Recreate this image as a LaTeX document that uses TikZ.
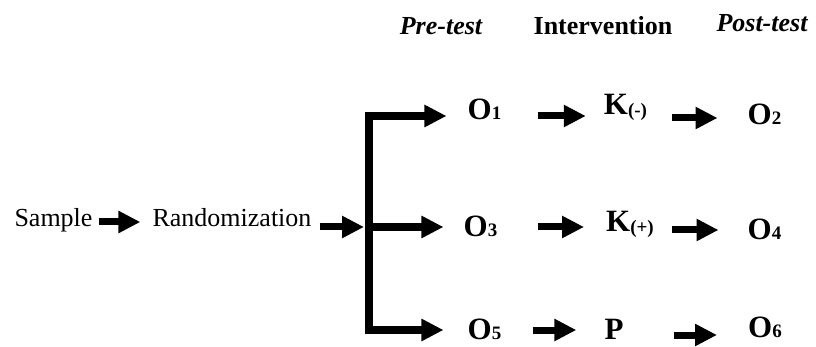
\documentclass[tikz,border=0pt]{standalone}
\usepackage{fontspec}
\setmainfont{Liberation Serif}
\usetikzlibrary{arrows.meta}
\newcommand{\obsv}[2]{#1{\fontsize{19}{19}\selectfont #2}}
\newcommand{\treat}[2]{#1\raisebox{-2pt}{\fontsize{19}{19}\selectfont #2}}

\begin{document}
\begin{tikzpicture}[x=1pt,y=-1pt,
  arr/.style={line width=7pt,-{Triangle[length=22pt,width=21pt]}},
  txt/.style={anchor=base,inner sep=0pt,font=\fontsize{26}{30}\selectfont},
  big/.style={anchor=base,inner sep=0pt,font=\fontsize{31}{34}\selectfont\bfseries}]
\useasboundingbox(0,0)rectangle(816,347);
% headings
\node[txt,font=\fontsize{26}{30}\selectfont\bfseries\itshape](pre) at (441,35){Pre-test};
\node[txt,font=\fontsize{26}{30}\selectfont\bfseries](interv) at (603,35){Intervention};
\node[txt,font=\fontsize{26}{30}\selectfont\bfseries\itshape](post) at (762,32){Post-test};
% left part
\node[txt](sample) at (53.5,227){Sample};
\node[txt](rand) at (232,227){Randomization};
% groups
\node[big](o1) at (484.5,120){\obsv{O}{1}};
\node[big](k1) at (625.5,115){\treat{K}{(-)}};
\node[big](o2) at (764.5,125){\obsv{O}{2}};
\node[big](o3) at (480.5,237){\obsv{O}{3}};
\node[big](k2) at (630,232){\treat{K}{(+)}};
\node[big](o4) at (764.5,240){\obsv{O}{4}};
\node[big](o5) at (484.5,339){\obsv{O}{5}};
\node[big](p) at (614,339){P};
\node[big](o6) at (765,337){\obsv{O}{6}};
\coordinate(top) at (369,116);
\coordinate(split) at (369,227);
\coordinate(bot) at (369,330);
% arrows
\draw[arr]([xshift=6pt,yshift=5pt]sample.base east)--([xshift=-12pt,yshift=5pt]rand.base west);
\draw[arr,shorten >=5pt]([xshift=8pt]rand.base east |- split)--(split);
\draw[line width=8pt,line cap=rect](top)--(bot);
\draw[arr,line width=8pt](top)--([xshift=-21pt,yshift=4pt]o1.base west);
\draw[arr,line width=8pt](split)--([xshift=-20pt,yshift=10pt]o3.base west);
\draw[arr,line width=8pt](bot)--([xshift=-24pt,yshift=9pt]o5.base west);
\draw[arr]([xshift=36pt,yshift=4pt]o1.base east)--([xshift=-18pt,yshift=-1pt]k1.base west);
\draw[arr]([xshift=25pt,yshift=-3pt]k1.base east)--([xshift=-30pt,yshift=7pt]o2.base west);
\draw[arr]([xshift=40pt,yshift=10pt]o3.base east)--([xshift=-22pt,yshift=5pt]k2.base west);
\draw[arr]([xshift=18pt,yshift=2pt]k2.base east)--([xshift=-29pt,yshift=10pt]o4.base west);
\draw[arr]([xshift=31pt,yshift=9pt]o5.base east)--([xshift=-28pt,yshift=9pt]p.base west);
\draw[arr]([xshift=50pt,yshift=4pt]p.base east)--([xshift=-31pt,yshift=2pt]o6.base west);
\end{tikzpicture}
\end{document}
